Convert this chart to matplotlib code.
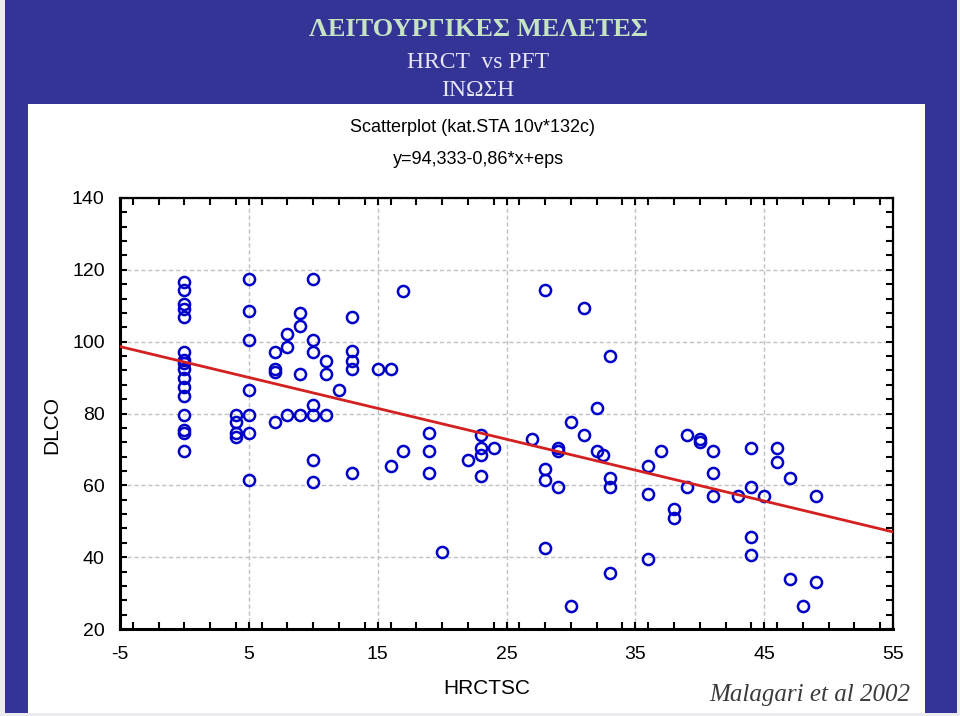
import numpy as np
import matplotlib
matplotlib.use("Agg")
import matplotlib.pyplot as plt
from matplotlib.patches import Rectangle
from matplotlib.ticker import MultipleLocator

plt.rcParams["axes.unicode_minus"] = False

# --- datos: HRCTSC (x) vs DLCO (y) ---
hrctsc = [0]*16 + [4]*4 + [5]*7 + [7]*4 + [8]*3 + [9]*4 + [10]*7 + [11]*3 + [12] \
    + [13]*5 + [15] + [16]*2 + [17]*2 + [19]*3 + [20] + [22] + [23]*4 + [24] + [27] \
    + [28]*4 + [29]*3 + [30]*2 + [31]*2 + [32]*2 + [32.5] + [33]*4 + [36]*3 + [37] \
    + [38]*2 + [39]*2 + [40]*2 + [41]*3 + [43] + [44]*4 + [45] + [46]*2 + [47]*2 \
    + [48] + [49]*2
dlco = [116.5, 114.5, 110.5, 109, 107, 97, 95, 94, 92.5, 90, 87.5, 85, 79.5, 75.5, 74.5, 69.5,
        79.5, 77.5, 74.5, 73.5,
        117.5, 108.5, 100.5, 86.5, 79.5, 74.5, 61.5,
        97, 92.5, 91.5, 77.5,
        102, 98.5, 79.5,
        108, 104.5, 91, 79.5,
        117.5, 100.5, 97, 82.5, 79.5, 67, 61,
        94.5, 91, 79.5,
        86.5,
        107, 97.5, 94.5, 92.5, 63.5,
        92.5,
        92.5, 65.5,
        114, 69.5,
        74.5, 69.5, 63.5,
        41.5,
        67,
        74, 70.5, 68.5, 62.5,
        70.5,
        73,
        114.5, 64.5, 61.5, 42.5,
        70.5, 69.5, 59.5,
        77.5, 26.5,
        109.5, 74,
        81.5, 69.5,
        68.5,
        96, 62, 59.5, 35.5,
        65.5, 57.5, 39.5,
        69.5,
        53.5, 51,
        74, 59.5,
        73, 72,
        69.5, 63.5, 57,
        57,
        70.5, 59.5, 45.5, 40.5,
        57,
        70.5, 66.5,
        62, 34,
        26.5,
        57, 33]

# recta de regresion: y = 94,333 - 0,86*x
intercepto = 94.333
pendiente = -0.86

x_ticks = [-5, 5, 15, 25, 35, 45, 55]
y_ticks = [20, 40, 60, 80, 100, 120, 140]

titulo = "ΛΕΙΤΟΥΡΓΙΚΕΣ ΜΕΛΕΤΕΣ"
subtitulo1 = "HRCT  vs PFT"
subtitulo2 = "ΙΝΩΣΗ"

navy = "#343496"
sans = ["Liberation Sans", "DejaVu Sans"]
serif = ["Liberation Serif", "DejaVu Serif"]

fig = plt.figure(figsize=(9.6, 7.16), dpi=100)
fig.patch.set_facecolor("#ececf0")

# fondo azul y panel blanco
fig.add_artist(Rectangle((5/960, 3/716), 952/960, 713/716, transform=fig.transFigure,
                         facecolor=navy, edgecolor="none", zorder=0))
fig.add_artist(Rectangle((28/960, 3/716), 897/960, 609/716, transform=fig.transFigure,
                         facecolor="white", edgecolor="none", zorder=0))

fig.text(0.498, 1 - 29/716, titulo, ha="center", va="center", family=serif,
         fontweight="bold", fontsize=19, color="#c6e4c4")
fig.text(0.498, 1 - 62/716, subtitulo1, ha="center", va="center", family=serif,
         fontsize=17, color="#e6e6f4")
fig.text(0.498, 1 - 90/716, subtitulo2, ha="center", va="center", family=serif,
         fontsize=17, color="#e6e6f4")

fig.text(472/960, 1 - 127/716, "Scatterplot (kat.STA 10v*132c)", ha="center", va="center",
         family=sans, fontsize=13, color="black")
fig.text(478/960, 1 - 160/716, "y=94,333-0,86*x+eps", ha="center", va="center",
         family=sans, fontsize=13, color="black")

ax = fig.add_axes([120/960, 1 - 629/716, 773/960, 431/716])
ax.set_facecolor("white")

ax.plot(hrctsc, dlco, "o", markersize=8, markerfacecolor="none",
        markeredgecolor="#0000c8", markeredgewidth=1.8, zorder=3)

xr = np.array([-5, 55])
ax.plot(xr, intercepto + pendiente*xr, color="#d42020", lw=2, zorder=4)

ax.set_xlim(-5, 55)
ax.set_ylim(20, 140)
ax.set_xticks(x_ticks)
ax.set_yticks(y_ticks)
ax.xaxis.set_minor_locator(MultipleLocator(2))
ax.yaxis.set_minor_locator(MultipleLocator(4))
ax.tick_params(which="both", direction="in", length=5, width=1.5,
               top=True, right=True, colors="black")
ax.tick_params(axis="x", which="major", pad=12)
ax.tick_params(axis="y", which="major", pad=11)
for lab in ax.get_xticklabels() + ax.get_yticklabels():
    lab.set_family(sans)
    lab.set_fontsize(14)

ax.grid(True, which="major", color="#c0c0c0", linestyle=(0, (3, 2)), lw=1)
for s in ["left", "bottom"]:
    ax.spines[s].set_linewidth(2.2)
for s in ["top", "right"]:
    ax.spines[s].set_linewidth(1.6)

fig.text(52/960, 1 - 425/716, "DLCO", rotation=90, ha="center", va="center",
         family=sans, fontsize=15)
fig.text(487/960, 1 - 688/716, "HRCTSC", ha="center", va="center",
         family=sans, fontsize=15)
fig.text(810/960, 1 - 695/716, "Malagari et al 2002", ha="center", va="center",
         family=serif, style="italic", fontsize=18, color="#3a3a3a")

fig.savefig("out.png", dpi=100)
